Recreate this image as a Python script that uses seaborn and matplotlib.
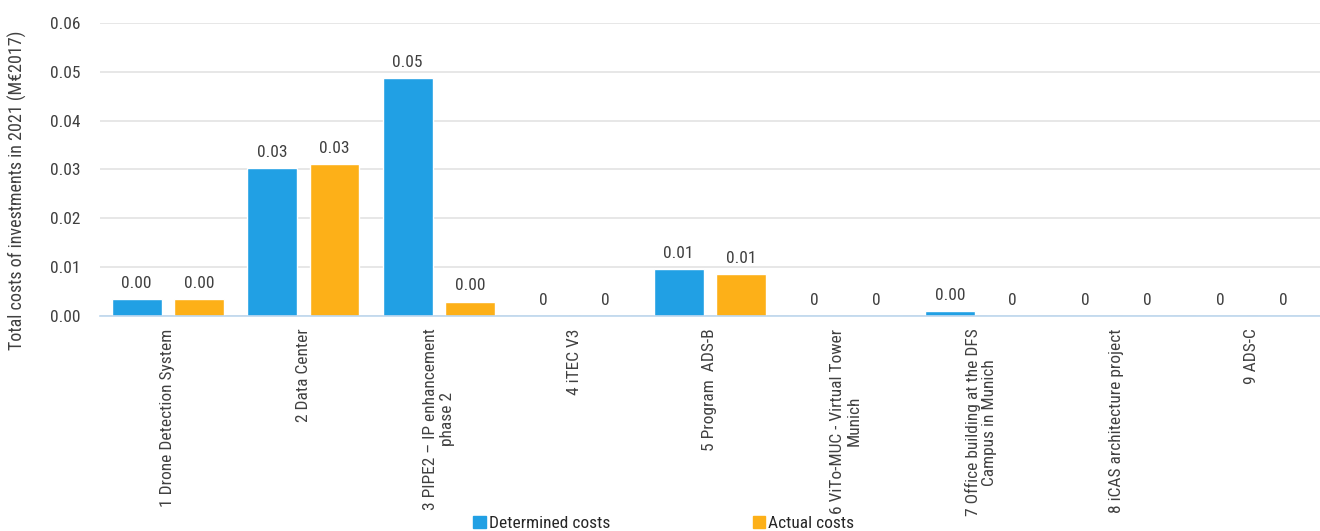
import seaborn as sns
import pandas as pd
import matplotlib.pyplot as plt

projects = [
    "1 Drone Detection System",
    "2 Data Center",
    "3 PIPE2 \u2013 IP enhancement\nphase 2",
    "4 iTEC V3",
    "5 Program  ADS-B",
    "6 ViTo-MUC - Virtual Tower\nMunich",
    "7 Office building at the DFS\nCampus in Munich",
    "8 iCAS architecture project",
    "9 ADS-C",
]
determined = [0.0035, 0.0303, 0.0487, 0.0, 0.0096, 0.0, 0.0010, 0.0, 0.0]
actual = [0.0035, 0.0311, 0.0029, 0.0, 0.0086, 0.0, 0.0, 0.0, 0.0]
series = ["Determined costs", "Actual costs"]
colors = ["#21A0E4", "#FDB018"]

sns.set_theme(style="white")
plt.rcParams['font.family'] = ['Roboto Condensed', 'DejaVu Sans']

df = pd.DataFrame({
    "project": projects * 2,
    "cost": determined + actual,
    "series": [series[0]] * len(projects) + [series[1]] * len(projects),
})

fig = plt.figure(figsize=(13.2, 5.31), dpi=100)
ax = fig.add_axes([0.0758, 0.405, 0.924, 0.552])
sns.barplot(data=df, x="project", y="cost", hue="series", palette=colors,
            width=0.92, gap=0.2, ax=ax, legend=False, saturation=1)

for cont, vals in zip(ax.containers, [determined, actual]):
    labels = ["0" if v == 0 else f"{v:.2f}" for v in vals]
    ax.bar_label(cont, labels=labels, padding=6, fontsize=12.5, color="#404040")

ax.set_ylim(0, 0.06)
ax.set_yticks([0, 0.01, 0.02, 0.03, 0.04, 0.05, 0.06])
ax.set_yticklabels([f"{t:.2f}" for t in ax.get_yticks()], fontsize=12.5, color="#404040")
ax.set_xlim(-0.5, len(projects) - 0.5)
ax.set_xticks(range(len(projects)))
ax.set_xticklabels(projects, rotation=90, fontsize=12.5, color="#404040",
                   va="top", ha="center", multialignment="center",
                   linespacing=1.15)
ax.tick_params(axis="both", length=0)
ax.tick_params(axis="x", pad=9)
ax.tick_params(axis="y", pad=14)
ax.set_xlabel("")
ax.set_ylabel("Total costs of investments in 2021 (M\u20ac2017)", fontsize=13, color="#404040")
ax.yaxis.set_label_coords(-0.06, 0.43)
ax.grid(axis="y", color="#E3E3E3", linewidth=1.2)
ax.set_axisbelow(True)
for side in ["top", "right", "left"]:
    ax.spines[side].set_visible(False)
ax.spines["bottom"].set_color("#BDD7EE")
ax.spines["bottom"].set_linewidth(1.2)

handles = [plt.Rectangle((0, 0), 1, 1, color=c) for c in colors]
fig.legend(handles, series, loc="lower center", bbox_to_anchor=(0.503, -0.03),
           ncol=2, frameon=False, fontsize=12.5, handlelength=0.7, handleheight=0.7,
           handletextpad=0.2, columnspacing=8.2)

fig.savefig("out.png", dpi=100)
